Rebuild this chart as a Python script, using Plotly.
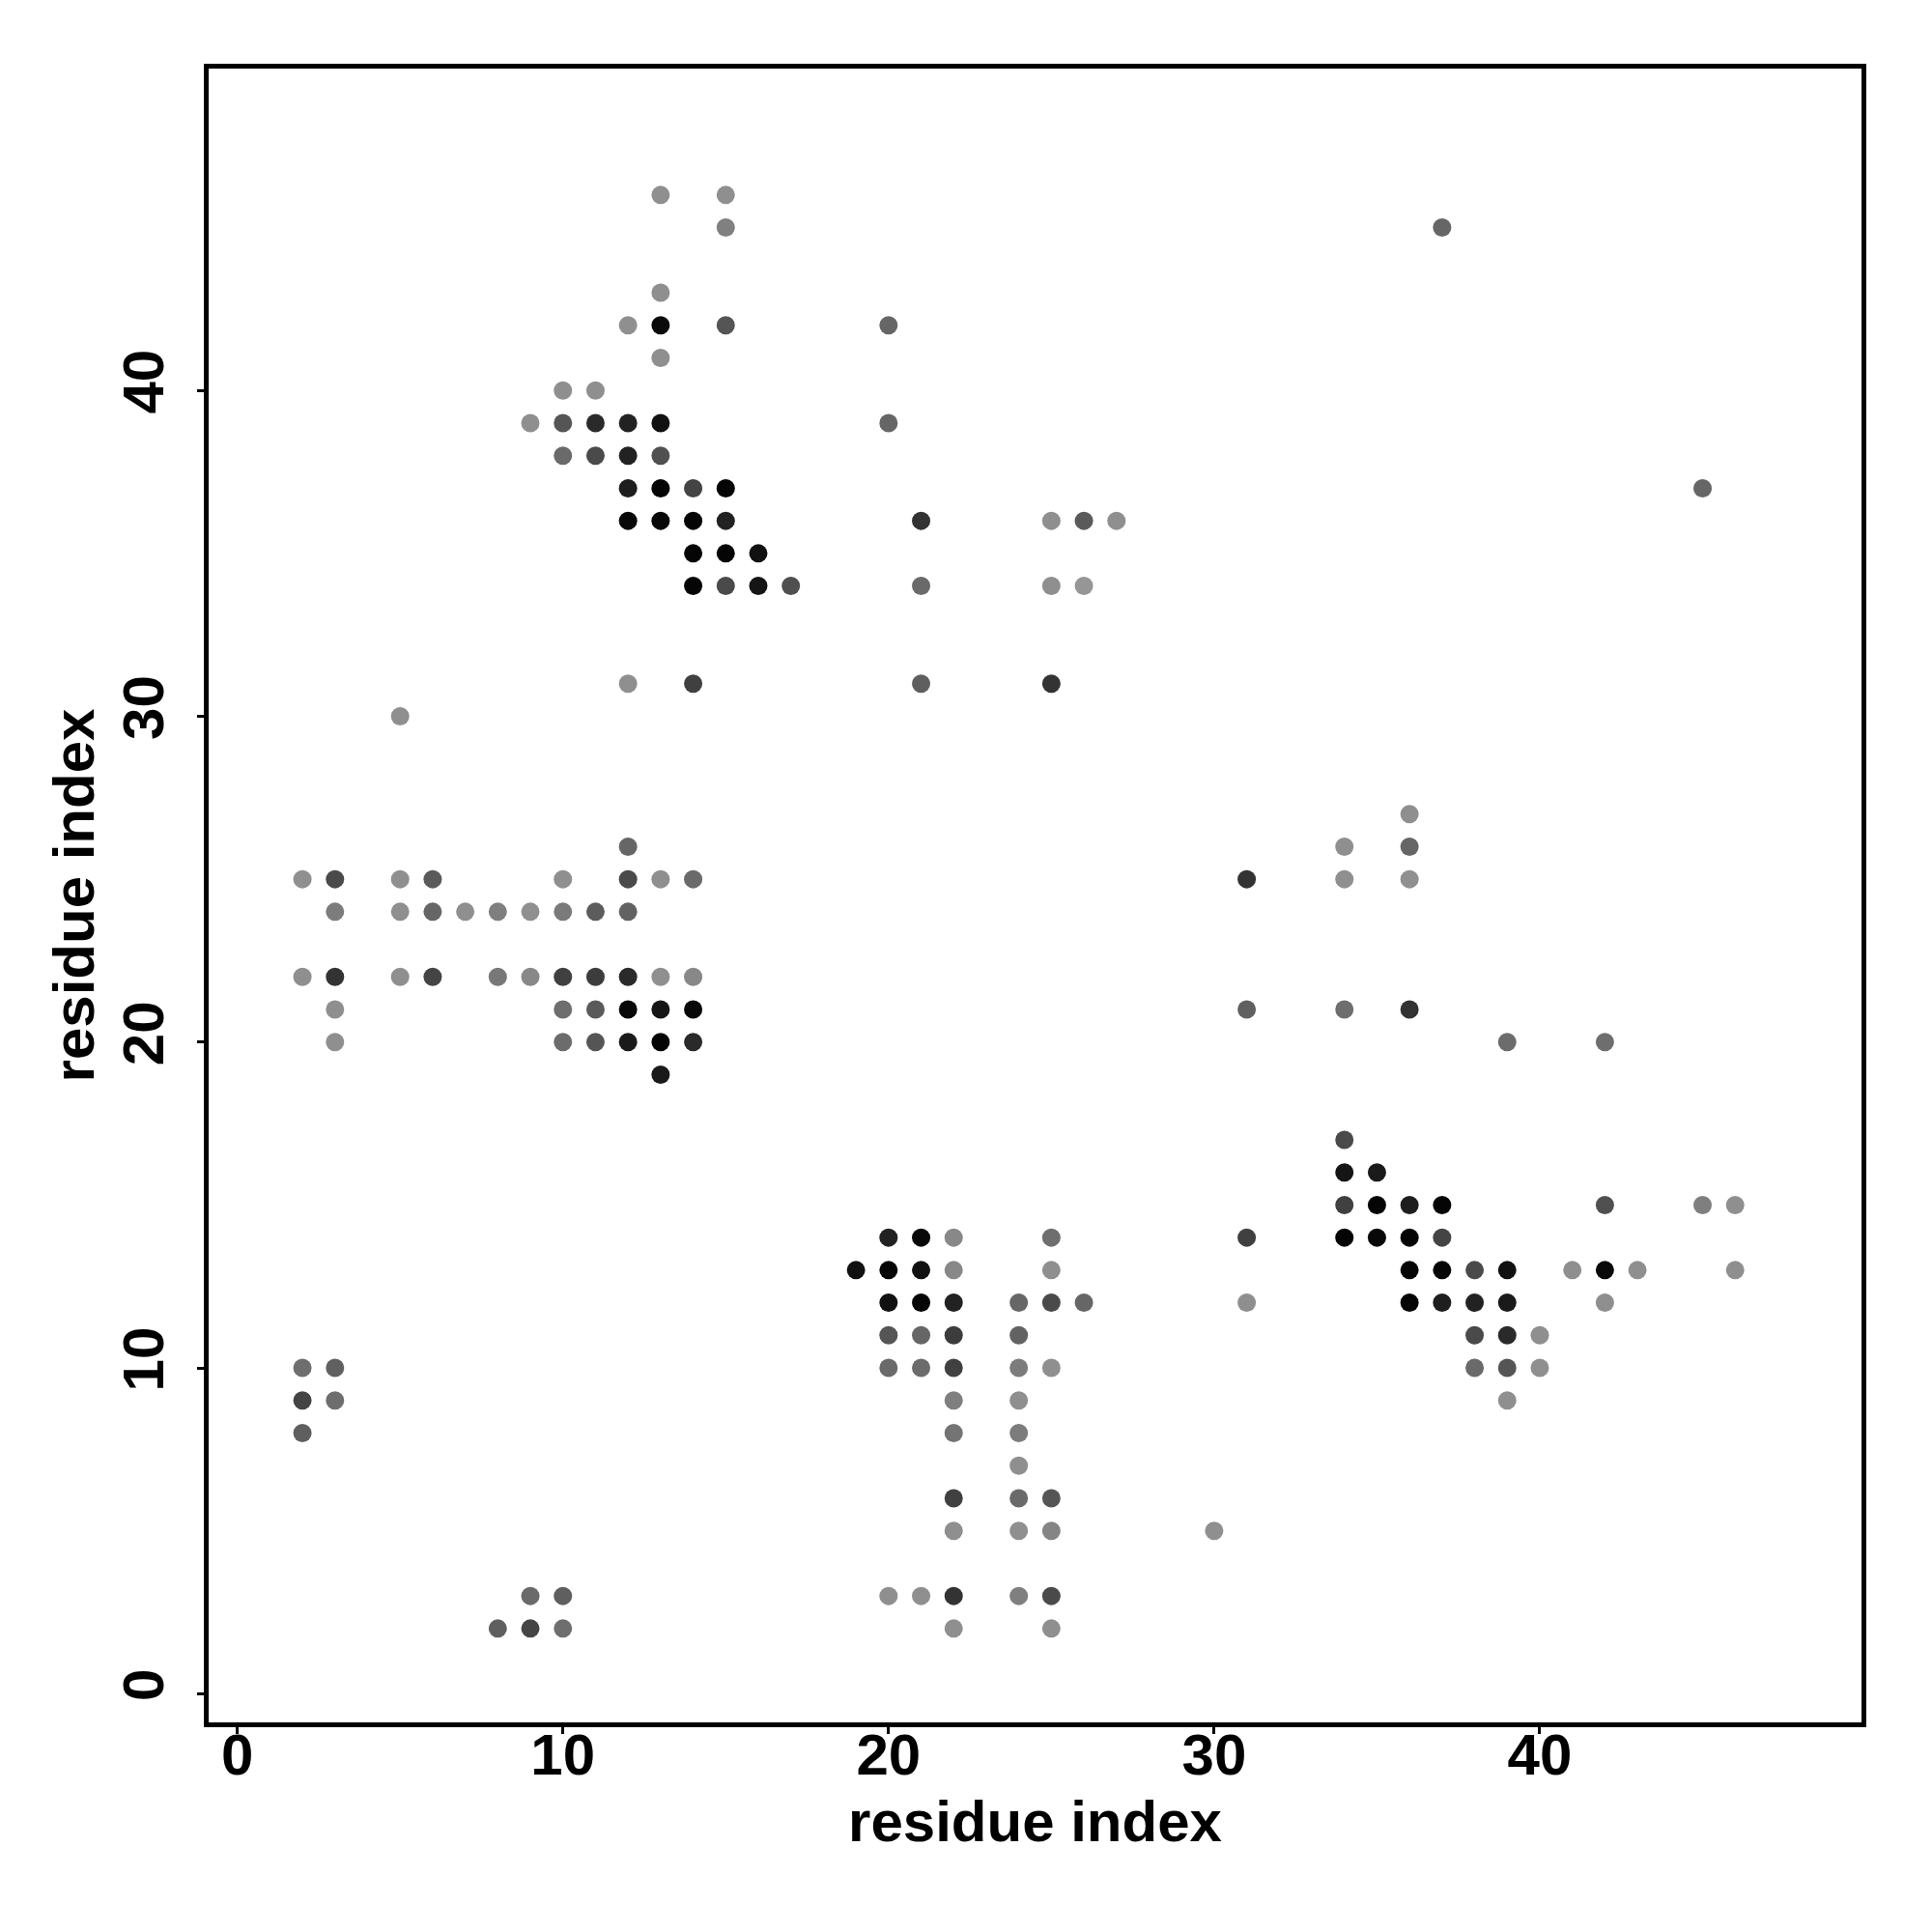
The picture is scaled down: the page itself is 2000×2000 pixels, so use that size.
import plotly.graph_objects as go

# residue i, residue j, gray level (0 = black, 255 = white)
res_i = [13, 15, 15, 13, 12, 13, 15, 13, 10, 11,
         9, 10, 11, 12, 13,
         10, 11, 12, 13,
         12, 13, 14, 15,
         12, 13, 14, 15,
         14, 15, 16,
         14, 15, 16, 17,
         12, 14, 5,
         12,
         2, 3, 5, 6, 10, 12, 13, 14,
         3, 5, 6, 7, 8, 9, 10, 11, 12,
         2, 3, 5, 6, 8, 9, 10, 11, 12, 13, 14,
         3, 10, 11, 12, 13, 14,
         3, 10, 11, 12, 13, 14,
         13,
         2, 3, 2, 3, 2, 9, 10, 8, 9, 10,
         20, 20, 21, 25, 26, 27, 21, 25, 26, 21, 25,
         20, 21, 22, 25,
         19, 20, 21, 22, 25,
         20, 21, 22, 24, 25, 26,
         20, 21, 22, 24,
         20, 21, 22, 24, 25,
         22, 24,
         22, 24,
         24,
         22, 24, 25,
         22, 24, 25,
         20, 21, 22, 24, 25,
         22, 25, 30,
         36, 34, 36, 31, 34, 36,
         31, 34, 36, 39, 42,
         34, 34, 35,
         34, 35, 36, 37, 42, 45, 46,
         31, 34, 35, 36, 37,
         36, 37, 38, 39, 41, 42, 43, 46,
         31, 36, 37, 38, 39, 42,
         38, 39, 40,
         38, 39, 40,
         39,
         37, 45]

res_j = [46, 46, 45, 43, 42, 42, 42, 41, 40, 40,
         39, 39, 39, 39, 39,
         38, 38, 38, 38,
         37, 37, 37, 37,
         36, 36, 36, 36,
         35, 35, 35,
         34, 34, 34, 34,
         31, 31, 30,
         26,
         25, 25, 25, 25, 25, 25, 25, 25,
         24, 24, 24, 24, 24, 24, 24, 24, 24,
         22, 22, 22, 22, 22, 22, 22, 22, 22, 22, 22,
         21, 21, 21, 21, 21, 21,
         20, 20, 20, 20, 20, 20,
         19,
         10, 10, 9, 9, 8, 3, 3, 2, 2, 2,
         42, 39, 36, 36, 36, 36, 34, 34, 34, 31, 31,
         14, 14, 14, 14,
         13, 13, 13, 13, 13,
         12, 12, 12, 12, 12, 12,
         11, 11, 11, 11,
         10, 10, 10, 10, 10,
         9, 9,
         8, 8,
         7,
         6, 6, 6,
         5, 5, 5,
         3, 3, 3, 3, 3,
         2, 2, 5,
         27, 26, 26, 25, 25, 25,
         21, 21, 21, 20, 20,
         17, 16, 16,
         15, 15, 15, 15, 15, 15, 15,
         14, 14, 14, 14, 14,
         13, 13, 13, 13, 13, 13, 13, 13,
         12, 12, 12, 12, 12, 12,
         11, 11, 11,
         10, 10, 10,
         9,
         45, 37]

gray = [143, 143, 128, 143, 143, 10, 85, 143, 143, 143,
        143, 85, 42, 34, 17,
        106, 74, 34, 80,
        30, 5, 68, 5,
        8, 8, 5, 34,
        5, 5, 17,
        5, 74, 21, 79,
        143, 64, 143,
        102,
        143, 74, 143, 90, 143, 74, 143, 106,
        124, 143, 102, 143, 127, 143, 122, 92, 98,
        143, 51, 143, 68, 120, 136, 64, 60, 42, 143, 136,
        143, 110, 90, 8, 21, 8,
        143, 108, 85, 26, 5, 42,
        26,
        110, 96, 68, 110, 95, 106, 95, 95, 69, 110,
        102, 102, 51, 143, 90, 143, 106, 143, 150, 95, 51,
        34, 8, 136, 110,
        17, 5, 17, 136, 143,
        17, 5, 34, 102, 74, 102,
        85, 102, 60, 98,
        106, 108, 64, 124, 143,
        127, 143,
        116, 124,
        143,
        64, 106, 85,
        143, 143, 133,
        143, 143, 51, 127, 74,
        143, 143, 143,
        143, 143, 102, 51, 143, 143,
        96, 110, 51, 108, 110,
        74, 21, 26,
        64, 5, 30, 5, 80, 127, 143,
        64, 5, 8, 5, 68,
        5, 5, 74, 17, 143, 10, 143, 143,
        143, 5, 30, 34, 26, 143,
        74, 42, 143,
        106, 85, 143,
        143,
        102, 102]

tick_vals = [0, 10, 20, 30, 40]
axis_title = "residue index"

colors = [f"rgb({g},{g},{g})" for g in gray]

fig = go.Figure(go.Scatter(
    x=res_i, y=res_j, mode="markers",
    marker=dict(size=19, color=colors, line=dict(width=0)),
    hoverinfo="x+y",
))

font_family = "Liberation Sans, Arial, Helvetica, sans-serif"
axis_common = dict(
    tickvals=tick_vals,
    ticks="outside", ticklen=7, tickwidth=3, tickcolor="black",
    showline=True, linecolor="black", linewidth=5, mirror=True,
    showgrid=False, zeroline=False,
    tickfont=dict(family=font_family, size=60, color="black", weight="bold"),
)

fig.update_xaxes(
    range=[-0.88, 49.88], **axis_common, ticklabelstandoff=-30,
    title=dict(text=axis_title, standoff=16,
               font=dict(family=font_family, size=60, color="black", weight="bold")),
)
fig.update_yaxes(
    range=[-0.88, 49.88], **axis_common, tickangle=-90, ticklabelstandoff=11,
    title=dict(text=axis_title, standoff=0,
               font=dict(family=font_family, size=60, color="black", weight="bold")),
)

fig.update_layout(
    width=2000, height=2000,
    margin=dict(l=208, r=81, t=63, b=225),
    paper_bgcolor="white", plot_bgcolor="white",
    showlegend=False,
)

fig.write_html("out.html")
